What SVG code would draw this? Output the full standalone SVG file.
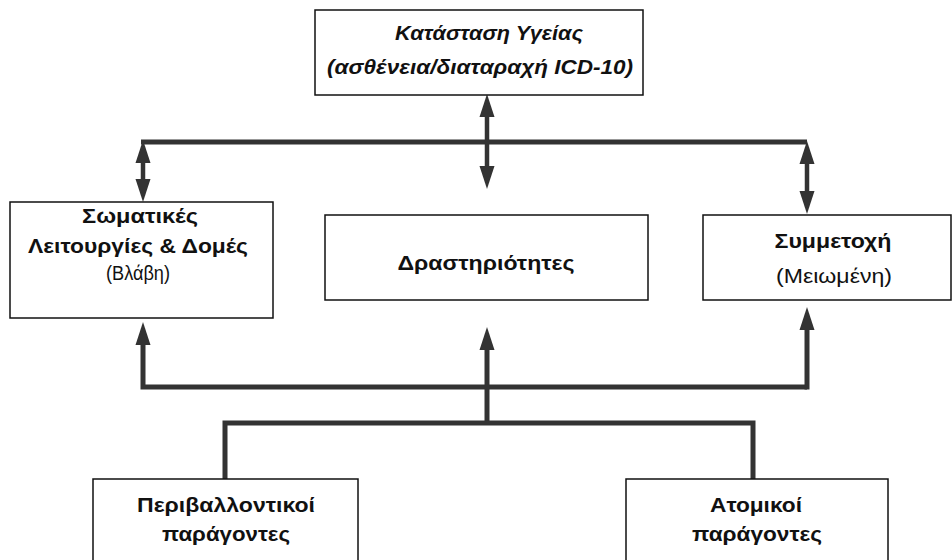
<svg xmlns="http://www.w3.org/2000/svg" width="952" height="560" viewBox="0 0 952 560">
<style>
.box{fill:#fff;stroke:#111;stroke-width:1.5}
.t{font-family:"Liberation Sans",Arial,sans-serif;font-size:20px;fill:#111;text-anchor:middle}
.b{font-weight:bold}
.i{font-style:italic}
.c{fill:none;stroke:#333;stroke-width:5;stroke-linejoin:miter;stroke-linecap:butt}
.s{stroke-width:4.5}
</style>
<defs>
<marker id="ah" markerUnits="userSpaceOnUse" markerWidth="24" markerHeight="16" viewBox="0 -8 24 16" refX="0" refY="0" orient="auto-start-reverse">
<path d="M0,-7.5 L23,0 L0,7.5 z" fill="#333"/>
</marker>
</defs>
<g id="connectors">
<path class="c" d="M141,142 H807"/>
<path class="c" d="M143,387 H807 M143,389.5 V346"/>
<path class="c" d="M807,389.5 V331"/>
<path class="c" d="M143,346 V345" marker-end="url(#ah)"/>
<path class="c" d="M807,331 V330" marker-end="url(#ah)"/>
<path class="c" d="M487,423 V350" marker-end="url(#ah)"/>
<path class="c" d="M225,479 V423 H753 V479"/>
<path class="c s" d="M487,117 V166" marker-start="url(#ah)" marker-end="url(#ah)"/>
<path class="c s" d="M143,163 V179" marker-start="url(#ah)" marker-end="url(#ah)"/>
<path class="c s" d="M807,164 V191" marker-start="url(#ah)" marker-end="url(#ah)"/>
</g>
<g id="health">
<rect class="box" x="315" y="10" width="328" height="85"/>
<text class="t b i" x="489" y="40" textLength="188" lengthAdjust="spacingAndGlyphs">Κατάσταση Υγείας</text>
<text class="t b i" x="480" y="74" textLength="306" lengthAdjust="spacingAndGlyphs">(ασθένεια/διαταραχή ICD-10)</text>
</g>
<g id="body">
<rect class="box" x="10" y="202" width="263" height="116"/>
<text class="t b" x="140" y="223" textLength="116" lengthAdjust="spacingAndGlyphs">Σωματικές</text>
<text class="t b" x="138" y="253" textLength="220" lengthAdjust="spacingAndGlyphs">Λειτουργίες &amp; Δομές</text>
<text class="t" x="138" y="280" textLength="64" lengthAdjust="spacingAndGlyphs">(Βλάβη)</text>
</g>
<g id="activities">
<rect class="box" x="325" y="215" width="323" height="85"/>
<text class="t b" x="486" y="270" textLength="177" lengthAdjust="spacingAndGlyphs">Δραστηριότητες</text>
</g>
<g id="participation">
<rect class="box" x="703" y="215" width="248" height="85"/>
<text class="t b" x="833" y="248" textLength="117" lengthAdjust="spacingAndGlyphs">Συμμετοχή</text>
<text class="t" x="834" y="283" textLength="116" lengthAdjust="spacingAndGlyphs">(Μειωμένη)</text>
</g>
<g id="environmental">
<rect class="box" x="93" y="479" width="265" height="100"/>
<text class="t b" x="226" y="512" textLength="178" lengthAdjust="spacingAndGlyphs">Περιβαλλοντικοί</text>
<text class="t b" x="226" y="541" textLength="128" lengthAdjust="spacingAndGlyphs">παράγοντες</text>
</g>
<g id="personal">
<rect class="box" x="626" y="479" width="262" height="100"/>
<text class="t b" x="756" y="512" textLength="92" lengthAdjust="spacingAndGlyphs">Ατομικοί</text>
<text class="t b" x="757" y="541" textLength="130" lengthAdjust="spacingAndGlyphs">παράγοντες</text>
</g>
</svg>
